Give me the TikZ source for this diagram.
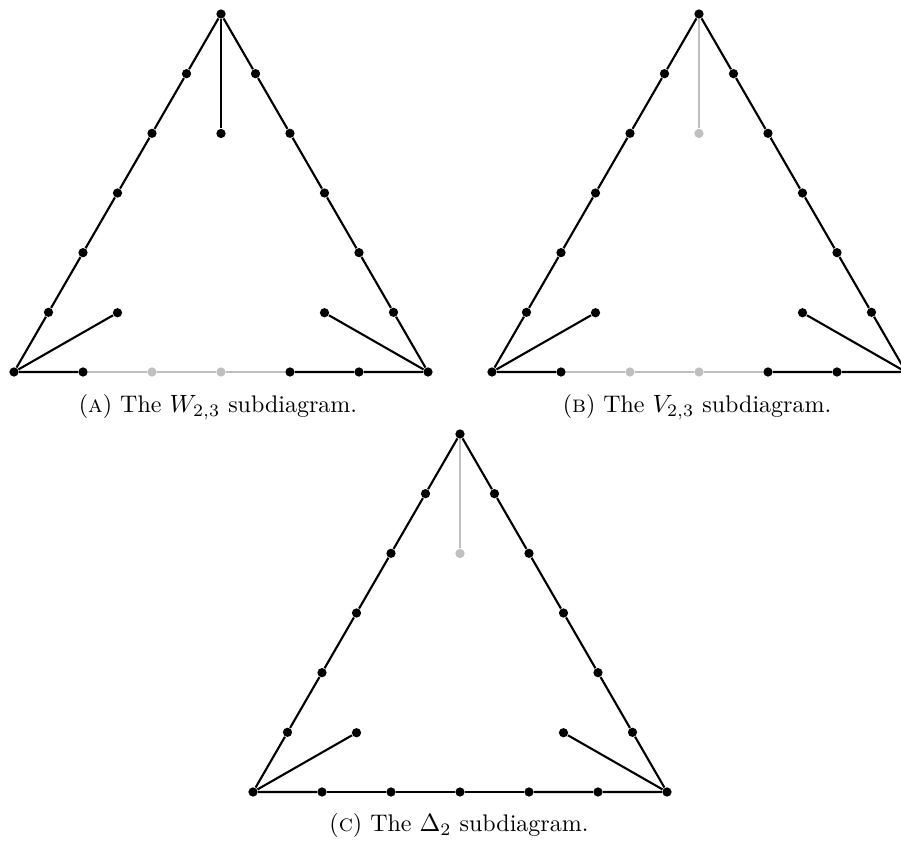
\documentclass[tikz,border=0pt]{standalone}
\begin{document}
\tikzset{
  blk/.style={line width=0.85pt, black},
  gry/.style={line width=0.85pt, black!25},
  bdot/.style={circle, fill=black, inner sep=0pt, minimum size=3.7pt},
  gdot/.style={circle, fill=black!25, inner sep=0pt, minimum size=3.7pt},
  capt/.style={anchor=base, inner sep=0pt, font=\fontsize{9.6}{11.5}\selectfont}
}
\newcommand\maketri[5]{%
  \begin{scope}[shift={(#2,#3)}]
    \node[bdot] (#1t) at (0,0) {};
    \foreach \k in {1,...,5}{
      \node[bdot] (#1l\k) at ({-34.5*\k},{59.667*\k}) {};
      \node[bdot] (#1r\k) at ({34.5*\k},{59.667*\k}) {};
    }
    \foreach \k in {0,1,4,5,6}{\node[bdot] (#1b\k) at ({-207+69*\k},358) {};}
    \foreach \k in {2,3}{\node[#4] (#1b\k) at ({-207+69*\k},358) {};}
    \node[#5] (#1v) at (0,119.5) {};
    \node[bdot] (#1p) at (-103.5,298.75) {};
    \node[bdot] (#1q) at (103.5,298.75) {};
  \end{scope}}
\newcommand\triedges[3]{%
  \draw[blk] (#1t) -- (#1l1) -- (#1l2) -- (#1l3) -- (#1l4) -- (#1l5) -- (#1b0)
             (#1t) -- (#1r1) -- (#1r2) -- (#1r3) -- (#1r4) -- (#1r5) -- (#1b6)
             (#1b0) -- (#1p) (#1b6) -- (#1q)
             (#1b0) -- (#1b1) (#1b4) -- (#1b5) -- (#1b6);
  \draw[#2] (#1b1) -- (#1b2) -- (#1b3) -- (#1b4);
  \draw[#3] (#1t) -- (#1v);}
\begin{tikzpicture}[x=0.4pt,y=-0.4pt]
  \useasboundingbox (0,0) rectangle (901,844);
  \maketri{A}{221}{14}{gdot}{bdot}
  \maketri{B}{699}{14}{gdot}{gdot}
  \maketri{C}{460}{434}{bdot}{gdot}
  \triedges{A}{gry}{blk}
  \triedges{B}{gry}{gry}
  \triedges{C}{blk}{gry}
  \node[capt] (capA) at (218,413) {(\textsc{a}) The $W_{2,3}$ subdiagram.};
  \node[capt] (capB) at (697,413) {(\textsc{b}) The $V_{2,3}$ subdiagram.};
  \node[capt] (capC) at (459,832) {(\textsc{c}) The $\Delta_2$ subdiagram.};
\end{tikzpicture}
\end{document}
